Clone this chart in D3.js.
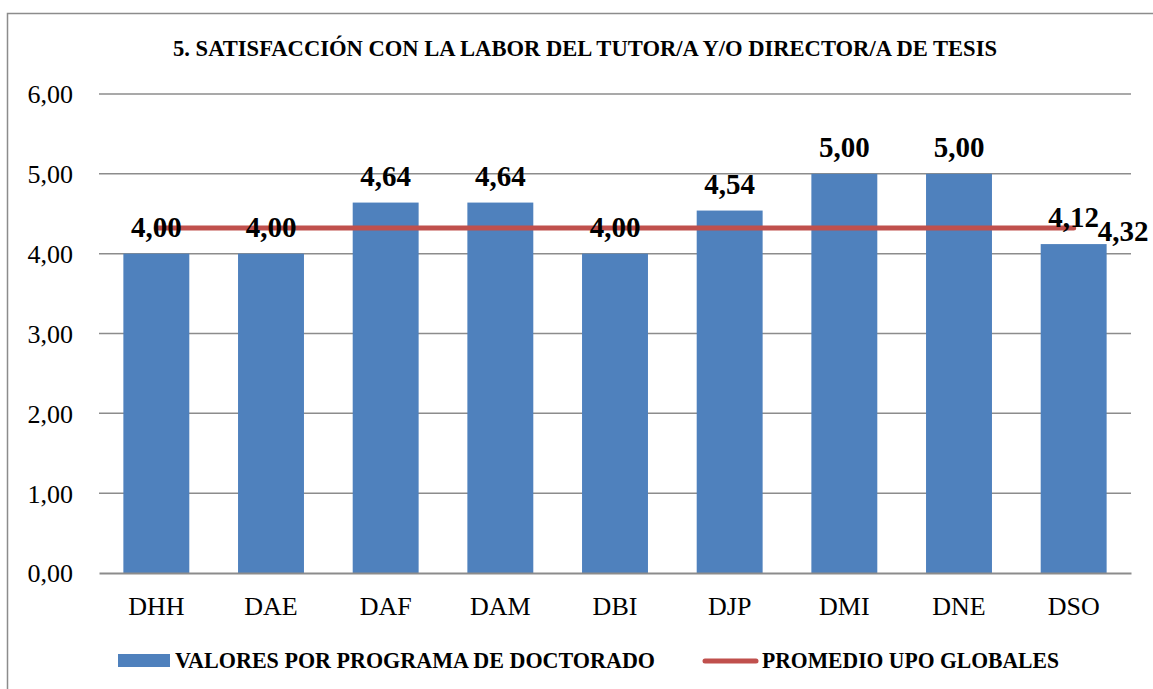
<!DOCTYPE html>
<html>
<head>
<meta charset="utf-8">
<script src="https://cdn.jsdelivr.net/npm/d3@7"></script>
<style>
  body { margin: 0; background: #fff; }
  svg { display: block; }
  svg text { font-family: "Liberation Serif", "DejaVu Serif", serif; }
</style>
</head>
<body>
<div id="chart-area"></div>
<script>
const categories = ["DHH", "DAE", "DAF", "DAM", "DBI", "DJP", "DMI", "DNE", "DSO"];
const programValues = [4.00, 4.00, 4.64, 4.64, 4.00, 4.54, 5.00, 5.00, 4.12];
const globalAverage = [4.32, 4.32, 4.32, 4.32, 4.32, 4.32, 4.32, 4.32, 4.32];
const yTicks = [0, 1, 2, 3, 4, 5, 6];
const title = "5. SATISFACCIÓN CON LA LABOR DEL TUTOR/A  Y/O DIRECTOR/A DE TESIS";
const legendLabels = ["VALORES POR PROGRAMA DE DOCTORADO", "PROMEDIO UPO GLOBALES"];

const W = 1153, H = 689;
const margin = { left: 99, right: 22, top: 94, bottom: 116 };
const width = W - margin.left - margin.right;
const height = H - margin.top - margin.bottom;
const fmt = d => d3.format(".2f")(d).replace(".", ",");

const svg = d3.select("#chart-area")
  .append("svg")
    .attr("width", W)
    .attr("height", H);

// chart frame
svg.append("rect")
  .attr("x", 7.5).attr("y", 13.5)
  .attr("width", W + 10).attr("height", H + 10)
  .attr("fill", "none")
  .attr("stroke", "#8c8c8c")
  .attr("stroke-width", 1.5);

svg.append("text")
  .attr("x", 585)
  .attr("y", 56)
  .attr("text-anchor", "middle")
  .style("font-weight", "bold")
  .style("font-size", "23px")
  .attr("textLength", 824)
  .attr("lengthAdjust", "spacingAndGlyphs")
  .text(title);

const g = svg.append("g")
  .attr("transform", "translate(" + margin.left + "," + margin.top + ")");

const x = d3.scaleBand()
  .domain(categories)
  .range([0, width])
  .paddingInner(0.425)
  .paddingOuter(0.2125);

const band = d3.scaleBand().domain(categories).range([0, width]);

const y = d3.scaleLinear()
  .domain([0, 6])
  .range([height, 0]);

// gridlines
g.append("g")
  .selectAll("line")
  .data(yTicks.slice(1))
  .enter()
  .append("line")
    .attr("x1", 0).attr("x2", width)
    .attr("y1", d => y(d)).attr("y2", d => y(d))
    .attr("stroke", "#8c8c8c")
    .attr("stroke-width", 1.5);

const yAxisCall = d3.axisLeft(y)
  .tickValues(yTicks)
  .tickSize(0)
  .tickPadding(26)
  .tickFormat(fmt);
const yAxis = g.append("g")
  .attr("class", "y axis")
  .call(yAxisCall);
yAxis.select(".domain").remove();
yAxis.selectAll("text")
  .style("font-size", "26px")
  .attr("dy", "0.34em")
  .attr("fill", "#000");

// bars
g.selectAll("rect.bar")
  .data(programValues)
  .enter()
  .append("rect")
    .attr("class", "bar")
    .attr("x", (d, i) => x(categories[i]))
    .attr("y", d => y(d))
    .attr("width", x.bandwidth())
    .attr("height", d => height - y(d))
    .attr("fill", "#4f81bd");

const xAxisCall = d3.axisBottom(band).tickSize(0).tickPadding(24);
const xAxis = g.append("g")
  .attr("class", "x axis")
  .attr("transform", "translate(0, " + height + ")")
  .call(xAxisCall);
xAxis.select(".domain")
  .attr("stroke", "#8c8c8c")
  .attr("stroke-width", 2);
xAxis.selectAll("text")
  .style("font-size", "26px")
  .attr("fill", "#000");

// average line
const line = d3.line()
  .x((d, i) => band(categories[i]) + band.bandwidth() / 2)
  .y(d => y(d));
g.append("path")
  .datum(globalAverage)
  .attr("d", line)
  .attr("fill", "none")
  .attr("stroke", "#c0504d")
  .attr("stroke-width", 5)
  .attr("stroke-linecap", "round");

// bar value labels
g.selectAll("text.val")
  .data(programValues)
  .enter()
  .append("text")
    .attr("class", "val")
    .attr("x", (d, i) => band(categories[i]) + band.bandwidth() / 2)
    .attr("y", d => y(d) - 17)
    .attr("text-anchor", "middle")
    .style("font-weight", "bold")
    .style("font-size", "29px")
    .text(fmt);

// average value label at the end of the line
const last = globalAverage.length - 1;
g.append("text")
  .attr("x", band(categories[last]) + band.bandwidth() / 2 + 24)
  .attr("y", y(globalAverage[last]) + 13)
  .style("font-weight", "bold")
  .style("font-size", "29px")
  .text(fmt(globalAverage[last]));

// legend
const legend = svg.append("g");
legend.append("rect")
  .attr("x", 118).attr("y", 654)
  .attr("width", 52).attr("height", 13)
  .attr("fill", "#4f81bd");
legend.append("text")
  .attr("x", 175).attr("y", 668)
  .style("font-weight", "bold")
  .style("font-size", "24px")
  .attr("textLength", 480)
  .attr("lengthAdjust", "spacingAndGlyphs")
  .text(legendLabels[0]);
legend.append("line")
  .attr("x1", 705).attr("x2", 756)
  .attr("y1", 661).attr("y2", 661)
  .attr("stroke", "#c0504d")
  .attr("stroke-width", 5)
  .attr("stroke-linecap", "round");
legend.append("text")
  .attr("x", 762).attr("y", 668)
  .style("font-weight", "bold")
  .style("font-size", "24px")
  .attr("textLength", 297)
  .attr("lengthAdjust", "spacingAndGlyphs")
  .text(legendLabels[1]);
</script>
</body>
</html>
